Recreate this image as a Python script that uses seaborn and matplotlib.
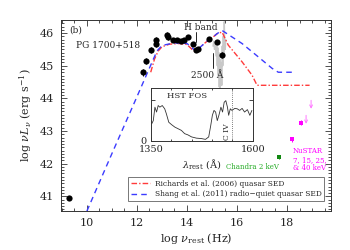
import numpy as np
import pandas as pd
import matplotlib
matplotlib.use("Agg")
import matplotlib.pyplot as plt
import seaborn as sns
from matplotlib.lines import Line2D

# ---------------- data ----------------
# photometry (log nu, log nuLnu, err)
phot_x = [9.30, 12.24, 12.36, 12.56, 12.75, 12.75, 13.19, 13.23, 13.45, 13.6, 13.75, 13.9, 14.03,
          14.23, 14.36, 14.45, 14.89, 15.19, 15.39]
phot_y = [40.95, 44.80, 45.15, 45.48, 45.68, 45.79, 45.94, 45.87, 45.79, 45.78, 45.76, 45.80, 45.89,
          45.66, 45.48, 45.50, 45.82, 45.73, 45.33]
phot_e = [0.05, 0.10, 0.10, 0.10, 0.10, 0.08, 0.08, 0.08, 0.06, 0.06, 0.06, 0.06, 0.06,
          0.06, 0.06, 0.06, 0.06, 0.06, 0.08]

# Shang et al. (2011) radio-quiet quasar SED
shang_x = [10.0, 11.0, 12.0, 12.5, 12.8, 13.0, 13.5, 14.0, 14.2, 14.35, 14.5, 14.8, 15.0, 15.2,
           15.4, 15.5, 16.2, 16.85, 17.4, 17.65, 18.2]
shang_y = [40.55, 42.31, 44.05, 44.93, 45.45, 45.62, 45.70, 45.68, 45.55, 45.45, 45.55, 45.75, 45.85,
           45.98, 46.08, 46.03, 45.68, 45.27, 44.92, 44.80, 44.80]

# Richards et al. (2006) quasar SED
rich_x = [12.55, 12.7, 12.85, 13.0, 13.3, 13.7, 14.0, 14.2, 14.35, 14.5, 14.8, 15.0, 15.2, 15.4,
          15.65, 16.2, 16.6, 16.8, 18.9]
rich_y = [44.80, 45.20, 45.45, 45.58, 45.66, 45.68, 45.65, 45.50, 45.42, 45.55, 45.75, 45.85, 45.98,
          46.03, 45.63, 45.12, 44.71, 44.40, 44.40]

# UV spectrum in SED space
spec_x = [15.04, 15.07, 15.10, 15.13, 15.16, 15.19, 15.21, 15.23, 15.25, 15.27, 15.29, 15.31, 15.33,
          15.35, 15.37, 15.39, 15.41, 15.43, 15.45, 15.47, 15.49, 15.51, 15.53, 15.55]
spec_y = [45.60, 45.75, 45.50, 45.70, 45.30, 45.65, 45.00, 45.55, 44.70, 45.40, 44.35, 45.20, 44.30,
          44.60, 45.10, 44.40, 45.60, 45.00, 45.90, 45.30, 46.35, 45.70, 45.50, 45.80]

# X-ray
chandra_x = [17.67]
chandra_y = [42.20]
nustar_x = [18.21, 18.55]
nustar_y = [42.75, 43.26]
nustar_ul_x = [18.76, 18.96]
nustar_ul_y = [43.48, 43.94]

# HST FOS inset spectrum
fos_wl = [1352, 1356, 1360, 1364, 1368, 1372, 1378, 1384, 1388, 1394, 1401, 1409, 1417, 1425, 1433,
          1441, 1450, 1462, 1474, 1484, 1492, 1497, 1501, 1505, 1509, 1513, 1517, 1522, 1526, 1530,
          1534, 1538, 1541, 1545, 1549, 1556, 1562, 1568, 1574, 1580, 1587, 1593, 1598]
fos_fl = [0.42, 0.50, 0.83, 0.71, 0.87, 0.83, 0.87, 0.79, 0.67, 0.46, 0.40, 0.34, 0.30, 0.26, 0.18,
          0.15, 0.10, 0.07, 0.06, 0.04, 0.10, 0.38, 0.63, 0.75, 0.71, 0.50, 0.63, 0.83, 0.71, 0.95,
          0.99, 0.83, 0.63, 0.79, 0.75, 0.80, 0.79, 0.75, 0.80, 0.71, 0.77, 0.63, 0.75]

legend_labels = ["Richards et al. (2006) quasar SED",
                 "Shang et al. (2011) radio\u2212quiet quasar SED"]

# ---------------- plot ----------------
sns.set_style("ticks")
plt.rcParams["font.family"] = ["DejaVu Serif"]
plt.rcParams["mathtext.fontset"] = "dejavuserif"

fig = plt.figure(figsize=(3.5, 2.5), dpi=100)
ax = fig.add_axes([0.174, 0.156, 0.772, 0.764])

RED = "#ff3b3b"
BLUE = "#3b3bff"
RED_LS = (0, (4, 1.5, 1, 1.5))
BLUE_LS = (0, (4, 3))

df_spec = pd.DataFrame({"x": spec_x, "y": spec_y})
sns.lineplot(data=df_spec, x="x", y="y", ax=ax, color="#c8c8c8", lw=1.0, sort=False, zorder=1)

df_sh = pd.DataFrame({"x": shang_x, "y": shang_y})
sns.lineplot(data=df_sh, x="x", y="y", ax=ax, color=BLUE, lw=1.0, sort=False, zorder=3,
             linestyle=BLUE_LS)
df_ri = pd.DataFrame({"x": rich_x, "y": rich_y})
sns.lineplot(data=df_ri, x="x", y="y", ax=ax, color=RED, lw=1.0, sort=False, zorder=2,
             linestyle=RED_LS)

ax.vlines(phot_x, np.array(phot_y) - np.array(phot_e), np.array(phot_y) + np.array(phot_e),
          color="black", lw=0.7, zorder=4)
df_ph = pd.DataFrame({"x": phot_x, "y": phot_y})
sns.scatterplot(data=df_ph, x="x", y="y", ax=ax, color="black", s=20, edgecolor="black",
                linewidth=0, zorder=5)

ax.vlines(chandra_x, np.array(chandra_y) - 0.05, np.array(chandra_y) + 0.05, color="#118811", lw=0.7)
sns.scatterplot(x=chandra_x, y=chandra_y, ax=ax, color="#118811", marker="s", s=10, linewidth=0, zorder=5)
ax.vlines(nustar_x, np.array(nustar_y) - 0.08, np.array(nustar_y) + 0.08, color="#ff00ff", lw=0.7)
sns.scatterplot(x=nustar_x, y=nustar_y, ax=ax, color="#ff00ff", marker="s", s=12, linewidth=0, zorder=5)
for ux, uy in zip(nustar_ul_x, nustar_ul_y):
    ax.annotate("", xy=(ux, uy - 0.26), xytext=(ux, uy),
                arrowprops=dict(arrowstyle="->", color="#ff77ff", lw=0.7, mutation_scale=5,
                                shrinkA=0, shrinkB=0))

# marker lines
ax.plot([14.36, 14.36], [45.72, 46.03], color="black", lw=0.6)
ax.plot([15.04, 15.04], [44.93, 45.39], color="black", lw=0.6)

fs = 6.5
ax.text(9.28, 46.09, "(b)", fontsize=fs, ha="left", va="center")
ax.text(9.56, 45.63, "PG 1700+518", fontsize=fs, ha="left", va="center")
ax.text(14.56, 46.18, "H band", fontsize=fs, ha="center", va="center")
ax.text(14.80, 44.71, "2500 \u00c5", fontsize=fs, ha="center", va="center")
ax.text(16.60, 41.89, "Chandra 2 keV", fontsize=5, ha="center", va="center", color="#22aa22")
ax.text(18.24, 42.12, "NuSTAR\n7, 15, 25,\n& 40 keV", fontsize=5, ha="left", va="center",
        color="#ff00ff", linespacing=1.1)

ax.set_xlim(8.96, 19.76)
ax.set_ylim(40.55, 46.4)
ax.set_xticks([10, 12, 14, 16, 18])
ax.set_yticks([41, 42, 43, 44, 45, 46])
ax.xaxis.set_minor_locator(matplotlib.ticker.MultipleLocator(0.5))
ax.yaxis.set_minor_locator(matplotlib.ticker.MultipleLocator(0.1))
ax.tick_params(which="both", direction="in", top=True, right=True, labelsize=8, width=0.6,
               color="#333333", pad=5)
ax.tick_params(which="major", length=4)
ax.tick_params(which="minor", length=2)
for s in ax.spines.values():
    s.set_linewidth(0.7)
    s.set_color("#333333")
ax.set_xlabel(r"log $\nu_{\rm rest}$ (Hz)", fontsize=8, labelpad=2)
ax.set_ylabel(r"log $\nu L_\nu$ (erg s$^{-1}$)", fontsize=8, labelpad=4)

handles = [Line2D([0], [0], color=RED, lw=1.0, linestyle=RED_LS),
           Line2D([0], [0], color=BLUE, lw=1.0, linestyle=BLUE_LS)]
leg = ax.legend(handles, legend_labels, loc="lower right", bbox_to_anchor=(0.974, 0.052),
                fontsize=5.4, frameon=True, fancybox=False, handlelength=2.6, borderpad=0.35,
                labelspacing=0.35, handletextpad=0.6, borderaxespad=0)
leg.get_frame().set_edgecolor("#555555")
leg.get_frame().set_linewidth(0.7)

# inset
axi = fig.add_axes([0.431, 0.436, 0.291, 0.212])
df_fos = pd.DataFrame({"wl": fos_wl, "fl": fos_fl})
sns.lineplot(data=df_fos, x="wl", y="fl", ax=axi, color="#333333", lw=0.6, sort=False)
axi.axvline(1549, color="#555555", lw=0.6, linestyle=(0, (1, 1.5)))
axi.set_xlim(1350, 1600)
axi.set_ylim(0, 1.3)
axi.set_xticks([1350, 1600])
axi.set_yticks([0, 1])
axi.set_yticklabels(["0", ""])
axi.xaxis.set_minor_locator(matplotlib.ticker.MultipleLocator(50))
axi.tick_params(which="both", direction="in", top=True, right=True, labelsize=7, width=0.6, pad=3)
axi.tick_params(which="major", length=3)
axi.tick_params(which="minor", length=1.5)
for s in axi.spines.values():
    s.set_linewidth(0.7)
    s.set_color("#333333")
axi.set_xlabel(r"$\lambda_{\rm rest}$ ($\rm\AA$)", fontsize=7, labelpad=2)
axi.set_ylabel("")
axi.text(1438, 1.10, "HST FOS", fontsize=6, ha="center", va="center")
axi.text(1536, 0.24, "C IV", fontsize=5.5, ha="center", va="center", rotation=90)

fig.savefig("out.png", dpi=100)
